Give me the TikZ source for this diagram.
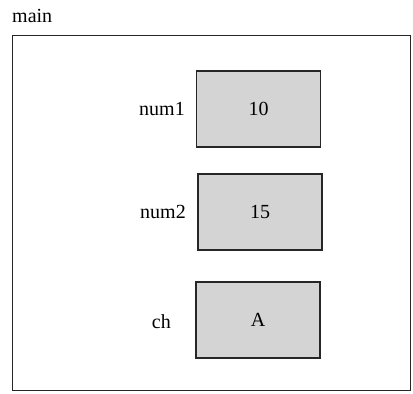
\documentclass[tikz,border=0pt]{standalone}
\usepackage{fontspec}
\setmainfont{Liberation Serif}
\begin{document}
\begin{tikzpicture}[x=1pt,y=-1pt,
  frame/.style={draw=black!85,line width=1.2pt},
  cell/.style={draw=black!85,line width=1.2pt,fill=black!17,minimum width=124pt,minimum height=76pt,inner sep=0pt,font=\fontsize{20}{24}\selectfont},
  lbl/.style={anchor=east,inner sep=0pt,font=\fontsize{20}{24}\selectfont},
  ttl/.style={anchor=west,inner sep=0pt,font=\fontsize{20}{24}\selectfont}]
\useasboundingbox (0,0) rectangle (413,394);
\node[ttl] (title) at (12,16) {main};
\node[draw=black!85,line width=1.2pt,minimum width=398pt,minimum height=355pt,inner sep=0pt,anchor=north west] (frame) at (12,35) {};
\node[cell] (c1) at (258.5,109) {10};
\node[cell] (c2) at (260,212) {15};
\node[cell] (c3) at (258,320) {A};
\node[lbl] (l1) at (185,109) {num1};
\node[lbl] (l2) at (186,212) {num2};
\node[lbl] (l3) at (171,322) {ch};
\end{tikzpicture}
\end{document}
